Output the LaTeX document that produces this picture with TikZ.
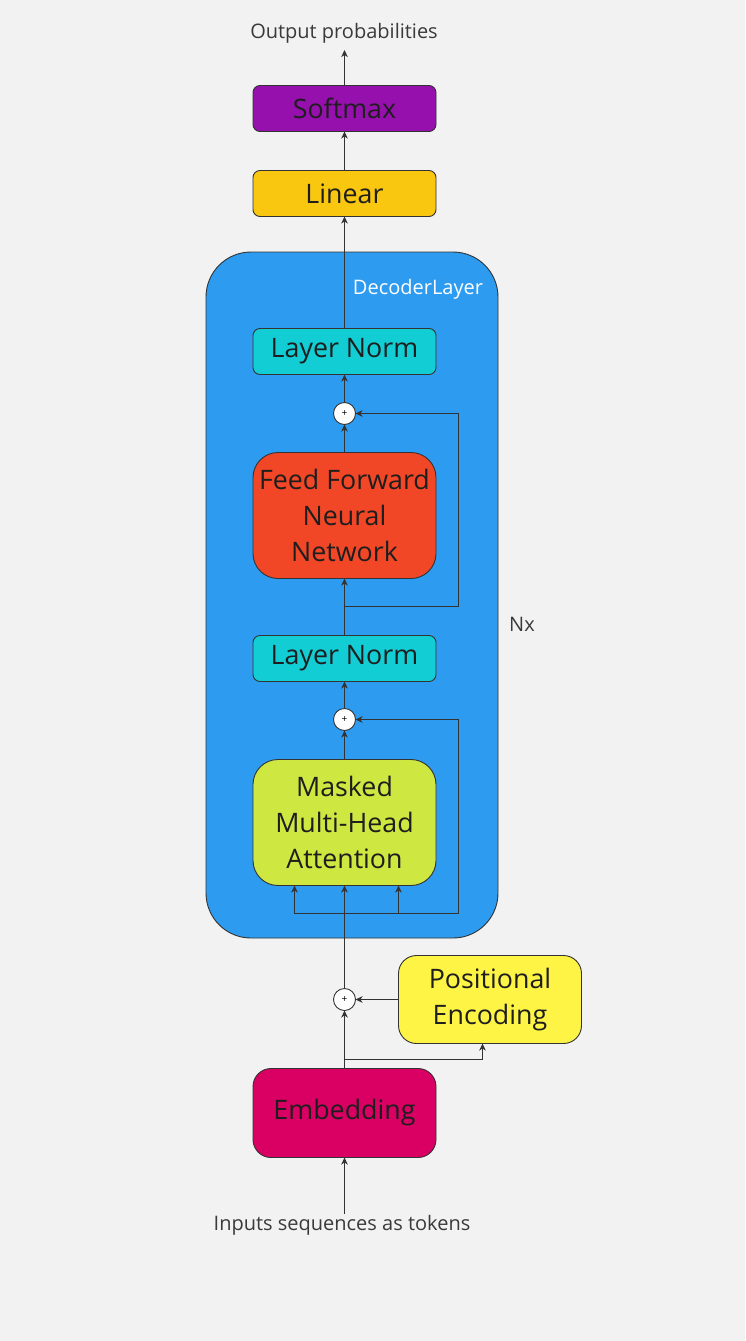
\documentclass[tikz,border=0pt]{standalone}
\usepackage{fontspec}
\setmainfont{Open Sans}
\usepackage{tikz}
\usetikzlibrary{
    arrows.meta,
    positioning,
    calc
}
\definecolor{dlbg}{HTML}{F2F2F2}
\definecolor{dlline}{HTML}{333333}
\definecolor{dltext}{HTML}{1E1E1E}
\definecolor{dllabeltext}{HTML}{3A3A3A}
\definecolor{dldecoder}{HTML}{2D9BF0}
\definecolor{dlsoftmax}{HTML}{9510AC}
\definecolor{dllinear}{HTML}{FAC710}
\definecolor{dlnorm}{HTML}{12CDD4}
\definecolor{dlffn}{HTML}{F24726}
\definecolor{dlattn}{HTML}{CEE741}
\definecolor{dlpos}{HTML}{FEF445}
\definecolor{dlembed}{HTML}{DA0063}
\tikzset{
    % Standard filled block
    dlbox/.style={
        rectangle,
        rounded corners=7pt,
        draw=dlline,
        line width=0.9pt,
        fill=#1,
        text=dltext,
        font=\fontsize{26.8}{36}\selectfont,
        minimum width=183pt,
        minimum height=46pt,
        align=center,
        inner sep=0pt,
        outer sep=0pt
    },
    dlbox/.default=dlnorm,
    % Tall block, three lines of text
    tallbox/.style={
        dlbox=#1,
        rounded corners=25pt,
        minimum height=126pt
    },
    % Input side block
    inbox/.style={
        dlbox=#1,
        rounded corners=18pt,
        minimum height=89pt
    },
    % Decoder frame
    decoderbox/.style={
        rectangle,
        rounded corners=45pt,
        draw=dlline,
        line width=0.9pt,
        fill=dldecoder,
        inner sep=0pt,
        outer sep=0pt
    },
    % Residual adder
    plusnode/.style={
        circle,
        draw=dlline,
        fill=white,
        line width=0.9pt,
        minimum size=22pt,
        inner sep=0pt,
        outer sep=0pt,
        font=\fontsize{10}{10}\selectfont
    },
    % Arrow style
    dlarrow/.style={
        -{Stealth[length=7pt,width=6.5pt,inset=2pt]},
        line width=1.2pt,
        draw=dlline
    },
    % Plain label
    dllabel/.style={
        font=\fontsize{20}{24}\selectfont,
        text=dllabeltext,
        inner sep=0pt
    }
}
\begin{document}
\begin{tikzpicture}[x=1pt,y=1pt]
    \useasboundingbox (0,0) rectangle (745,-1341);
    \fill[dlbg] (0,0) rectangle (745,-1341);

    % decoder frame
    \node[decoderbox, minimum width=292pt, minimum height=686pt] (decoder) at (352,-595) {};
    \node[font=\fontsize{20}{24}\selectfont, text=white, inner sep=0pt] (declabel) at (418,-289) {DecoderLayer};
    \node[dllabel] (nx) at (522,-624) {Nx};

    % output head
    \node[dllabel] (outprob) at (344,-33) {Output probabilities};
    \coordinate (outtip) at (344.5,-50);
    \node[dlbox=dlsoftmax] (softmax) at (344.5,-108.5) {Softmax};
    \node[dlbox=dllinear, below=39pt of softmax] (linear) {Linear};

    % decoder layer
    \node[dlbox=dlnorm, below=112pt of linear] (norm2) {Layer Norm};
    \node[plusnode, below=28pt of norm2] (plus2) {+};
    \node[tallbox=dlffn, below=28pt of plus2] (ffn) {Feed Forward\\Neural\\Network};
    \node[dlbox=dlnorm, below=57pt of ffn] (norm1) {Layer Norm};
    \node[plusnode, below=27pt of norm1] (plus1) {+};
    \node[tallbox=dlattn, below=29pt of plus1] (mha) {Masked\\Multi-Head\\Attention};

    % input side
    \node[plusnode, below=103pt of mha] (plus0) {+};
    \node[inbox=dlpos, right=43pt of plus0, minimum height=88pt] (posenc) {Positional\\Encoding};
    \node[inbox=dlembed, below=58pt of plus0] (embed) {Embedding};
    \coordinate (intip) at ($(embed.south)+(0,-56)$);
    \node[dllabel] (inputs) at (342,-1225) {Inputs sequences as tokens};

    % connectors
    \draw[dlarrow] (softmax.north) -- (outtip);
    \draw[dlarrow] (linear.north) -- (softmax.south);
    \draw[dlarrow] (norm2.north) -- (linear.south);
    \draw[dlarrow] (plus2.north) -- (norm2.south);
    \draw[dlarrow] (ffn.north) -- (plus2.south);
    \draw[dlarrow] (norm1.north) -- (ffn.south);
    \coordinate (res2) at ($(ffn.south)+(0,-28)$);
    \draw[dlarrow] (res2) -- ++(114,0) |- (plus2.east);
    \draw[dlarrow] (plus1.north) -- (norm1.south);
    \draw[dlarrow] (mha.north) -- (plus1.south);

    \draw[dlarrow] (plus0.north) -- (mha.south);
    \coordinate (res1) at ($(mha.south)+(0,-28)$);
    \draw[dlarrow] (res1) -- ++(114,0) |- (plus1.east);
    \draw[dlarrow] (res1) -| ([xshift=-50pt]mha.south);
    \draw[dlarrow] (res1) -| ([xshift=54pt]mha.south);

    \draw[dlarrow] (posenc.west |- plus0.east) -- (plus0.east);
    \draw[dlarrow] (embed.north) -- (plus0.south);
    \coordinate (possplit) at ($(embed.north)+(0,9)$);
    \draw[dlarrow] (possplit) -| ([xshift=-7.5pt]posenc.south);
    \draw[dlarrow] (intip) -- (embed.south);
\end{tikzpicture}
\end{document}
